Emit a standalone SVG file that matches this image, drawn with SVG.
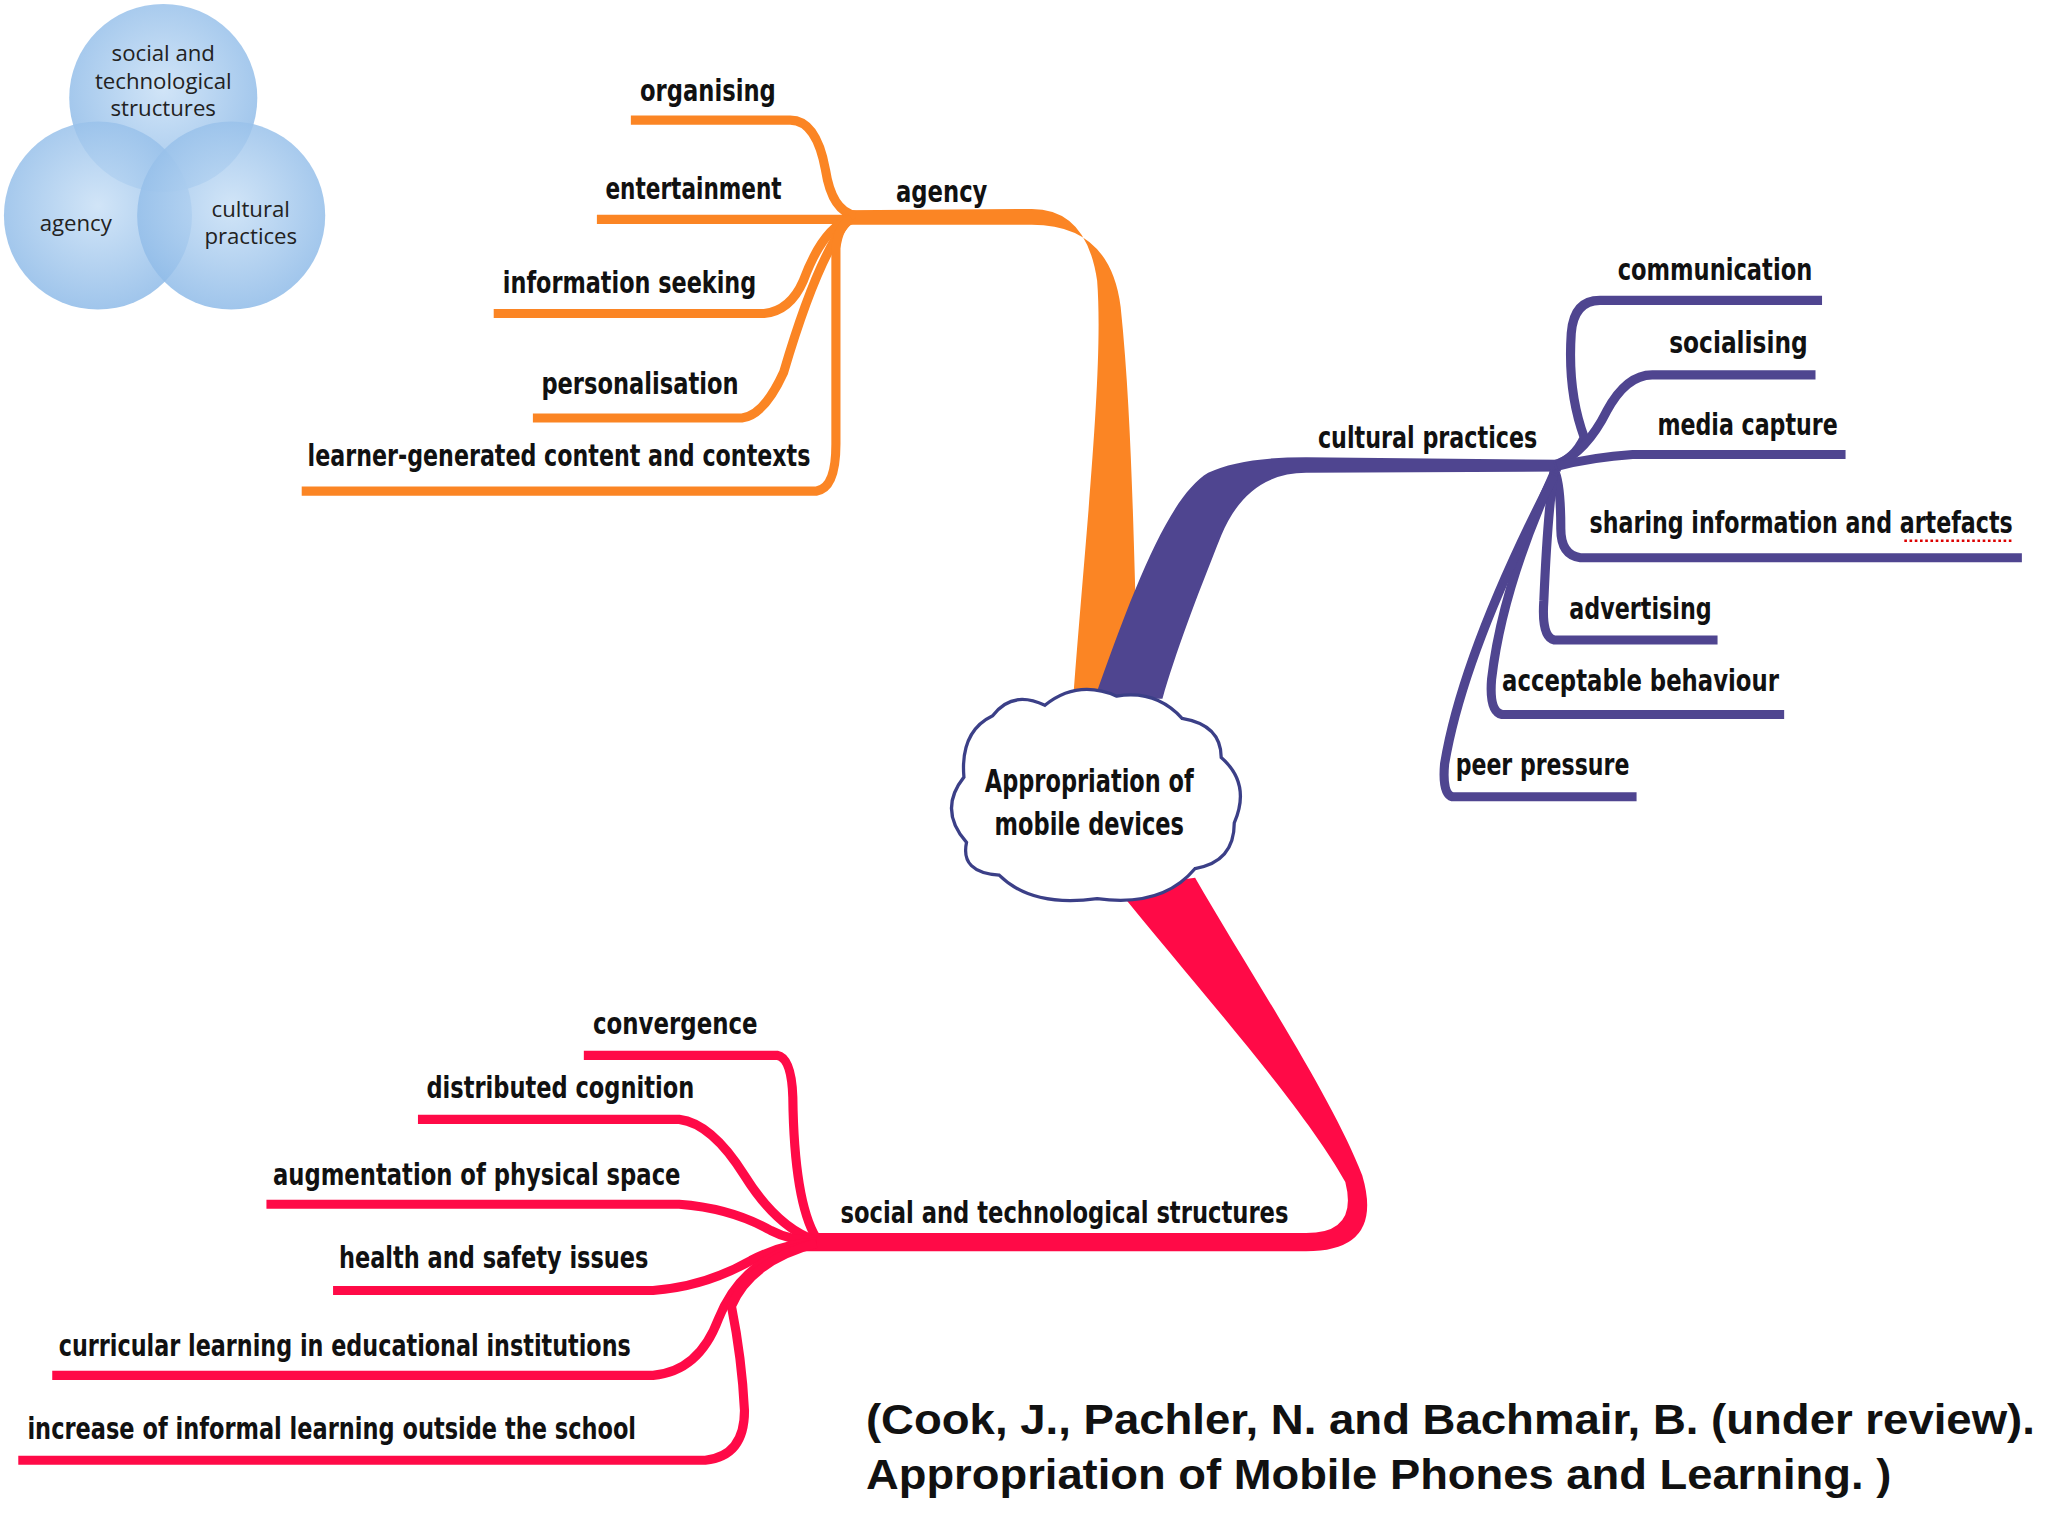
<svg xmlns="http://www.w3.org/2000/svg" width="2048" height="1536" viewBox="0 0 2048 1536">
<defs>
<radialGradient id="vg" cx="0.5" cy="0.45" r="0.55"><stop offset="0" stop-color="#c9e0f6" stop-opacity="0.85"/><stop offset="1" stop-color="#8fbbe8" stop-opacity="0.85"/></radialGradient>
<style>
.lbl{font-family:"Liberation Sans Narrow","DejaVu Sans Condensed","Liberation Sans",sans-serif;font-weight:bold;font-size:23px;fill:#111;text-anchor:middle}
.v{font-family:"Open Sans","Liberation Sans",sans-serif;font-size:17px;fill:#222;text-anchor:middle}
.o{fill:none;stroke:#fb8524;stroke-width:7;stroke-linecap:butt}
.p{fill:none;stroke:#4f4590;stroke-width:7}
.r{fill:none;stroke:#ff0a47;stroke-width:7}
.cite{font-family:"Liberation Sans",Arial,sans-serif;font-weight:bold;font-size:32px;fill:#111}
</style>
</defs>
<rect width="2048" height="1536" fill="#fff"/>
<g transform="scale(1.30612)">
<g id="venn">
<circle cx="125" cy="75" r="72" fill="url(#vg)"/>
<circle cx="75" cy="165" r="72" fill="url(#vg)"/>
<circle cx="177" cy="165" r="72" fill="url(#vg)"/>
<text class="v" x="125" y="47">social and</text>
<text class="v" x="125" y="68">technological</text>
<text class="v" x="125" y="89">structures</text>
<text class="v" x="58" y="177">agency</text>
<text class="v" x="192" y="166">cultural</text>
<text class="v" x="192" y="187">practices</text>
</g>
<g id="connectors">
<path fill="#fb8524" d="M822,530 C832,400 845,280 840,215 Q832,160 790,160 L645,161 L645,172 L790,172 Q850,172 858,235 C868,330 868,450 872,530 Z"/>
<path class="o" d="M483,92 L605,92 Q625,92 632,130 Q637,162 655,165"/>
<path class="o" d="M457,168 L650,168"/>
<path class="o" d="M378,240 L585,240 Q605,238 615,215 Q630,175 650,168"/>
<path class="o" d="M408,320 L568,320 Q585,318 600,285 Q625,200 648,170"/>
<path class="o" d="M231,376 L625,376 Q640,374 640,340 L640,190 Q642,172 652,168"/>
<path fill="#4f4590" d="M838,535 C868,450 895,380 925,362 Q950,350 1000,350 L1195,352 L1195,361 L1000,362 Q955,362 935,410 C915,460 900,500 890,535 Z"/>
<path class="p" d="M1395,230 L1225,230 Q1205,230 1203,255 Q1200,300 1213,335 Q1205,352 1190,356"/>
<path class="p" d="M1390,287 L1265,287 Q1245,287 1230,315 Q1215,345 1192,356"/>
<path class="p" d="M1413,348 L1250,348 Q1220,350 1192,357"/>
<path class="p" d="M1548,427 L1210,427 Q1195,425 1195,405 Q1195,370 1190,360"/>
<path class="p" d="M1315,490 L1190,490 Q1180,488 1182,460 Q1185,390 1190,360"/>
<path class="p" d="M1366,547 L1150,547 Q1140,545 1142,520 Q1150,450 1190,362"/>
<path class="p" d="M1253,610 L1112,610 Q1104,608 1106,585 Q1120,500 1190,364"/>
<path fill="#ff0a47" d="M855,680 L915,672 C960,750 1020,840 1043,900 Q1060,958 1000,958 L615,958 L615,944 L1000,944 Q1040,944 1030,905 C1000,850 920,760 855,680 Z"/>
<path class="r" d="M447,808 L595,808 Q606,810 607,840 Q608,920 625,948"/>
<path class="r" d="M320,857 L520,857 Q545,860 570,900 Q595,940 625,950"/>
<path class="r" d="M204,922 L520,922 Q560,925 590,942 Q605,950 625,950"/>
<path class="r" d="M255,988 L500,988 Q540,985 575,965 Q600,952 625,951"/>
<path class="r" d="M40,1053 L500,1053 Q535,1050 550,1010 Q570,960 625,952"/>
<path class="r" d="M14,1118 L540,1118 Q570,1115 570,1080 Q568,1040 560,1000 Q575,965 625,952"/>
</g>
<g id="center">
<path d="M760,548 Q775,528 800,540 Q825,520 855,533 Q885,528 905,550 Q935,555 935,580 Q958,600 945,630 Q945,660 915,665 Q890,695 840,688 Q790,695 765,670 Q735,668 740,645 Q718,620 738,595 Q735,560 760,548 Z" fill="#fff" stroke="#3b3f87" stroke-width="2.5"/>
<text class="lbl" x="834" y="606" style="font-size:24px" textLength="160" lengthAdjust="spacingAndGlyphs">Appropriation of</text>
<text class="lbl" x="834" y="639" style="font-size:24px" textLength="145" lengthAdjust="spacingAndGlyphs">mobile devices</text>
</g>
<g id="agency"><text class="lbl" x="721" y="155" textLength="70" lengthAdjust="spacingAndGlyphs">agency</text></g>
<g id="organising"><text class="lbl" x="542" y="77" textLength="104" lengthAdjust="spacingAndGlyphs">organising</text></g>
<g id="entertainment"><text class="lbl" x="531" y="152" textLength="135" lengthAdjust="spacingAndGlyphs">entertainment</text></g>
<g id="info"><text class="lbl" x="482" y="224" textLength="194" lengthAdjust="spacingAndGlyphs">information seeking</text></g>
<g id="pers"><text class="lbl" x="490" y="302" textLength="151" lengthAdjust="spacingAndGlyphs">personalisation</text></g>
<g id="learner"><text class="lbl" x="428" y="357" textLength="385" lengthAdjust="spacingAndGlyphs">learner-generated content and contexts</text></g>
<g id="cultural"><text class="lbl" x="1093" y="343" textLength="168" lengthAdjust="spacingAndGlyphs">cultural practices</text></g>
<g id="comm"><text class="lbl" x="1313" y="214" textLength="149" lengthAdjust="spacingAndGlyphs">communication</text></g>
<g id="soc"><text class="lbl" x="1331" y="270" textLength="106" lengthAdjust="spacingAndGlyphs">socialising</text></g>
<g id="media"><text class="lbl" x="1338" y="333" textLength="138" lengthAdjust="spacingAndGlyphs">media capture</text></g>
<g id="sharing"><text class="lbl" x="1379" y="408" textLength="324" lengthAdjust="spacingAndGlyphs">sharing information and artefacts</text>
<line x1="1458" y1="414" x2="1540" y2="414" stroke="#d00" stroke-width="2" stroke-dasharray="2,2"/></g>
<g id="adv"><text class="lbl" x="1256" y="474" textLength="109" lengthAdjust="spacingAndGlyphs">advertising</text></g>
<g id="acc"><text class="lbl" x="1256" y="529" textLength="212" lengthAdjust="spacingAndGlyphs">acceptable behaviour</text></g>
<g id="peer"><text class="lbl" x="1181" y="593" textLength="133" lengthAdjust="spacingAndGlyphs">peer pressure</text></g>
<g id="social"><text class="lbl" x="815" y="936" textLength="343" lengthAdjust="spacingAndGlyphs">social and technological structures</text></g>
<g id="conv"><text class="lbl" x="517" y="792" textLength="126" lengthAdjust="spacingAndGlyphs">convergence</text></g>
<g id="dist"><text class="lbl" x="429" y="841" textLength="205" lengthAdjust="spacingAndGlyphs">distributed cognition</text></g>
<g id="aug"><text class="lbl" x="365" y="907" textLength="312" lengthAdjust="spacingAndGlyphs">augmentation of physical space</text></g>
<g id="health"><text class="lbl" x="378" y="971" textLength="237" lengthAdjust="spacingAndGlyphs">health and safety issues</text></g>
<g id="curr"><text class="lbl" x="264" y="1038" textLength="438" lengthAdjust="spacingAndGlyphs">curricular learning in educational institutions</text></g>
<g id="incr"><text class="lbl" x="254" y="1102" textLength="466" lengthAdjust="spacingAndGlyphs">increase of informal learning outside the school</text></g>
<g id="cite">
<text class="cite" x="663" y="1098" textLength="895" lengthAdjust="spacingAndGlyphs">(Cook, J., Pachler, N. and Bachmair, B. (under review).</text>
<text class="cite" x="663" y="1140" textLength="785" lengthAdjust="spacingAndGlyphs">Appropriation of Mobile Phones and Learning. )</text>
</g>
</g>
</svg>
